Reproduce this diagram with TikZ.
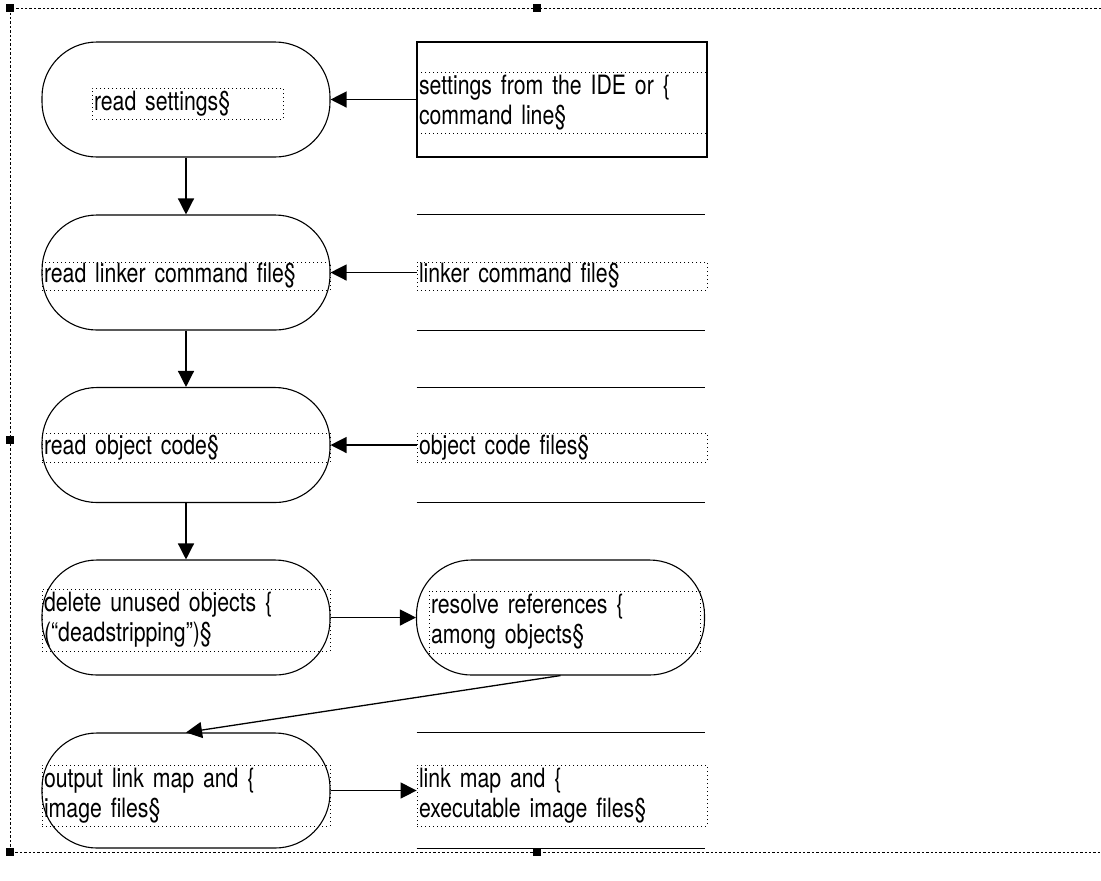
\documentclass[tikz,border=0pt]{standalone}
\usepackage{fontspec}
\setmainfont{TeX Gyre Heros}[FakeStretch=0.8]
\usetikzlibrary{arrows.meta}
\tikzset{
  stadium/.style={draw, line width=0.55pt, rectangle, rounded corners=27.5pt,
    minimum width=144pt, minimum height=57.5pt, inner sep=0pt},
  store/.style={minimum width=144pt, minimum height=57.5pt, inner sep=0pt},
  txtframe/.style={draw, line width=0.5pt, dash pattern=on 0.5pt off 1.5pt,
    inner xsep=1pt, inner ysep=0pt, align=left,
    font=\fontsize{13.3}{15}\selectfont},
  arr/.style={-{Triangle[length=8pt,width=8pt]}, line width=0.65pt},
}
\begin{document}
\begin{tikzpicture}[x=0.5pt,y=-0.5pt]
\useasboundingbox (0,0) rectangle (1101,880);
% page frame and handles
\draw[dash pattern=on 1.2pt off 1pt, line width=0.5pt] (1101,8) -- (10,8) -- (10,852) -- (1101,852);
\foreach \hx/\hy in {10/8,537/8,10/440,10/852,537/852}
  \fill (\hx-4,\hy-4) rectangle (\hx+4,\hy+4);
% left column
\node[stadium] (rs) at (186,99.5) {};
\node[stadium] (rl) at (186,272.5) {};
\node[stadium] (ro) at (186,445) {};
\node[stadium] (du) at (186,617.5) {};
\node[stadium] (ol) at (186,790.5) {};
\node[stadium] (rr) at (560.5,617.5) {};
% right column
\node[draw, line width=0.55pt, minimum width=145pt, minimum height=57.5pt] (ide) at (562,99.5) {};
\node[store] (lcf) at (561,272.5) {};
\node[store] (ocf) at (561,445) {};
\node[store] (lmf) at (561,790.5) {};
\foreach \s in {lcf,ocf,lmf}
  \draw[line width=0.55pt] (\s.north west) -- (\s.north east) (\s.south west) -- (\s.south east);
% text frames
\node[txtframe, text width=93.5pt, minimum height=15.5pt] (trs) at (187.5,103.5) {read settings§};
\node[txtframe, text width=142pt, minimum height=14pt] (trl) at (186,276) {read linker command file§};
\node[txtframe, text width=142pt, minimum height=14.5pt] (tro) at (186,447.5) {read object code§};
\node[txtframe, text width=142pt, minimum height=31pt] (tdu) at (186,620) {delete unused objects \{\\(“deadstripping”)§};
\node[txtframe, text width=142pt, minimum height=30.5pt] (tol) at (186,795.5) {output link map and \{\\image files§};
\node[txtframe, text width=133.5pt, minimum height=31pt] (trr) at (564.5,622) {resolve references \{\\among objects§};
\node[txtframe, text width=143pt, minimum height=30.5pt] (tide) at (562,102.5) {settings from the IDE or \{\\command line§};
\node[txtframe, text width=143pt, minimum height=14pt] (tlcf) at (562,276) {linker command file§};
\node[txtframe, text width=143pt, minimum height=14.5pt] (tocf) at (562,447.5) {object code files§};
\node[txtframe, text width=143pt, minimum height=30.5pt] (tlmf) at (562,795.5) {link map and \{\\executable image files§};
% connectors
\draw[arr] (ide.west) -- (rs.east);
\draw[arr] (lcf.west) -- (rl.east);
\draw[arr] (ocf.west) -- (ro.east);
\draw[arr] (rs.south) -- (rl.north);
\draw[arr] (rl.south) -- (ro.north);
\draw[arr] (ro.south) -- (du.north);
\draw[arr] (du.east) -- (rr.west);
\draw[arr] (rr.south) -- (ol.north);
\draw[arr] (ol.east) -- (lmf.west);
\end{tikzpicture}
\end{document}
